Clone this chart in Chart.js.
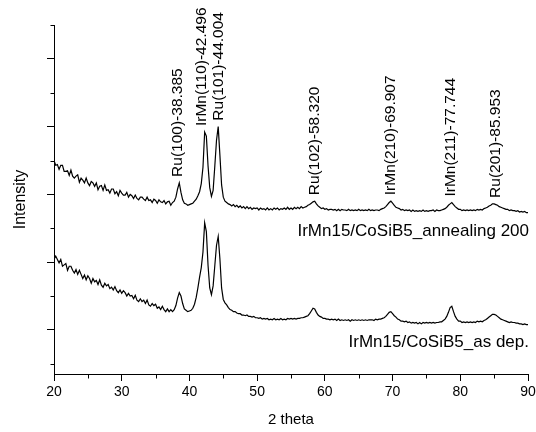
<!DOCTYPE html>
<html><head><meta charset="utf-8">
<script src="https://cdn.jsdelivr.net/npm/chart.js@4.4.1/dist/chart.umd.min.js"></script>
<style>html,body{margin:0;padding:0;background:#fff}</style>
</head><body>
<canvas id="c" width="536" height="432"></canvas>
<script>
// XRD scans: 2theta from angleStart in steps of angleStep (degrees)
const angleStart = 20;
const angleStep = 0.25;

const annealed = [
  2.50,2.43,2.44,2.37, 2.43,2.43,2.34,2.34, 2.35,2.28,2.36,2.27, 2.24,2.27,2.29,2.18,
  2.24,2.21,2.17,2.24, 2.17,2.13,2.19,2.17, 2.12,2.17,2.07,2.12, 2.13,2.06,2.14,2.06,
  2.07,2.02,2.08,2.08, 2.01,2.04,1.98,2.06, 2.02,1.99,1.99,2.03, 1.96,2.00,1.98,1.94,
  1.99,1.94,1.92,1.96, 1.96,1.93,1.91,1.96, 1.91,1.92,1.88,1.93, 1.91,1.87,1.92,1.89,
  1.88,1.91,1.86,1.89, 1.90,1.84,1.88,1.90, 1.96,2.08,2.17,2.03, 1.92,1.87,1.86,1.84,
  1.85,1.86,1.87,1.90, 1.93,1.98,2.04,2.16, 2.40,2.92,2.86,2.42, 2.10,1.97,2.06,2.42,
  2.80,3.00,2.58,2.14, 1.96,1.90,1.88,1.86, 1.85,1.83,1.85,1.82, 1.84,1.81,1.83,1.80,
  1.82,1.79,1.82,1.79, 1.81,1.78,1.80,1.79, 1.80,1.77,1.80,1.78, 1.79,1.77,1.80,1.77,
  1.79,1.77,1.80,1.78, 1.80,1.77,1.79,1.78, 1.80,1.78,1.81,1.78, 1.80,1.78,1.81,1.79,
  1.81,1.79,1.82,1.80, 1.81,1.82,1.84,1.85, 1.87,1.89,1.90,1.86, 1.83,1.81,1.79,1.80,
  1.78,1.79,1.77,1.78, 1.78,1.77,1.78,1.76, 1.78,1.76,1.78,1.77, 1.77,1.76,1.78,1.76,
  1.77,1.76,1.77,1.76, 1.78,1.76,1.77,1.76, 1.77,1.76,1.78,1.76, 1.77,1.76,1.77,1.77,
  1.76,1.78,1.79,1.80, 1.82,1.85,1.88,1.90, 1.87,1.84,1.81,1.80, 1.79,1.77,1.78,1.76,
  1.77,1.76,1.77,1.75, 1.77,1.75,1.76,1.75, 1.76,1.75,1.77,1.75, 1.76,1.75,1.76,1.76,
  1.77,1.75,1.77,1.76, 1.76,1.77,1.78,1.79, 1.81,1.84,1.86,1.88, 1.85,1.82,1.80,1.78,
  1.78,1.76,1.77,1.76, 1.77,1.76,1.77,1.76, 1.77,1.76,1.78,1.77, 1.78,1.77,1.79,1.80,
  1.81,1.83,1.84,1.86, 1.86,1.85,1.84,1.82, 1.81,1.80,1.79,1.78, 1.78,1.76,1.77,1.76,
  1.76,1.75,1.76,1.74, 1.75,1.74,1.75,1.73, 1.73
];

const asDeposited = [
  1.04,1.09,1.04,0.99, 1.04,0.94,0.96,0.98, 0.88,0.94,0.94,0.88, 0.84,0.89,0.82,0.88,
  0.82,0.76,0.81,0.74, 0.80,0.76,0.69,0.76, 0.71,0.73,0.67,0.74, 0.66,0.63,0.69,0.65,
  0.67,0.61,0.63,0.59, 0.64,0.58,0.55,0.59, 0.54,0.58,0.55,0.50, 0.54,0.50,0.51,0.46,
  0.51,0.44,0.42,0.46, 0.42,0.44,0.39,0.44, 0.37,0.35,0.39,0.36, 0.38,0.32,0.34,0.30,
  0.35,0.30,0.27,0.31, 0.27,0.30,0.27,0.30, 0.36,0.47,0.55,0.50, 0.39,0.31,0.29,0.27,
  0.28,0.29,0.32,0.38, 0.48,0.62,0.78,0.92, 1.15,1.58,1.45,0.95, 0.62,0.52,0.65,0.95,
  1.25,1.38,1.05,0.62, 0.45,0.40,0.37,0.33, 0.30,0.29,0.27,0.27, 0.25,0.24,0.24,0.22,
  0.22,0.21,0.22,0.20, 0.20,0.19,0.20,0.18, 0.18,0.17,0.18,0.16, 0.17,0.16,0.17,0.15,
  0.16,0.15,0.17,0.15, 0.16,0.15,0.17,0.15, 0.16,0.15,0.17,0.16, 0.17,0.16,0.17,0.16,
  0.17,0.17,0.18,0.18, 0.19,0.20,0.21,0.24, 0.28,0.32,0.31,0.26, 0.22,0.20,0.19,0.17,
  0.17,0.16,0.16,0.15, 0.16,0.15,0.16,0.14, 0.16,0.14,0.15,0.14, 0.15,0.14,0.15,0.13,
  0.15,0.14,0.15,0.14, 0.15,0.14,0.15,0.14, 0.15,0.14,0.15,0.15, 0.15,0.14,0.16,0.15,
  0.16,0.16,0.17,0.18, 0.20,0.23,0.26,0.27, 0.24,0.21,0.19,0.16, 0.15,0.13,0.13,0.12,
  0.13,0.11,0.12,0.10, 0.11,0.10,0.11,0.09, 0.11,0.09,0.11,0.10, 0.11,0.10,0.11,0.10,
  0.11,0.10,0.11,0.11, 0.12,0.12,0.14,0.16, 0.20,0.26,0.33,0.35, 0.27,0.20,0.16,0.13,
  0.13,0.11,0.12,0.11, 0.12,0.11,0.12,0.11, 0.12,0.11,0.13,0.12, 0.13,0.12,0.14,0.15,
  0.17,0.19,0.21,0.23, 0.23,0.22,0.20,0.18, 0.16,0.15,0.14,0.13, 0.12,0.11,0.12,0.11,
  0.11,0.10,0.10,0.09, 0.09,0.08,0.09,0.08, 0.08
];

const xTickValues = [20,25,30,35,40,45,50,55,60,65,70,75,80,85,90];
const xTickLabels = ['20','','30','','40','','50','','60','','70','','80','','90'];
const yTickValues = [-0.5,0,0.5,1,1.5,2,2.5,3,3.5,4,4.5];

const peakLabels = ['Ru(100)-38.385','IrMn(110)-42.496','Ru(101)-44.004','Ru(102)-58.320','IrMn(210)-69.907','IrMn(211)-77.744','Ru(201)-85.953'];
const peakLabelAngles = [38.34, 41.8, 44.26, 58.52, 69.76, 78.64, 85.3];

const seriesNames = ['IrMn15/CoSiB5_annealing 200', 'IrMn15/CoSiB5_as dep.'];
const seriesNameLevels = [1.39, -0.25];

const FONT = "'Liberation Sans', Arial, Helvetica, sans-serif";
const toPoints = arr => arr.map((v, i) => ({ x: angleStart + i * angleStep, y: v }));

const overlay = {
  id: 'overlay',
  afterDraw(chart) {
    const ctx = chart.ctx, xs = chart.scales.x, ys = chart.scales.y;
    ctx.save();
    ctx.strokeStyle = '#000';
    ctx.lineWidth = 1;
    // minor tick marks (shorter)
    const xb = Math.round(xs.top) + 0.5;
    xs.ticks.forEach(t => {
      if (t.major) return;
      const p = Math.round(xs.getPixelForValue(t.value)) + 0.5;
      ctx.beginPath(); ctx.moveTo(p, xb); ctx.lineTo(p, xb + 4); ctx.stroke();
    });
    const yb = Math.round(ys.right) + 0.5;
    ys.ticks.forEach(t => {
      if (t.major) return;
      const p = Math.round(ys.getPixelForValue(t.value)) + 0.5;
      ctx.beginPath(); ctx.moveTo(yb, p); ctx.lineTo(yb - 4, p); ctx.stroke();
    });
    // peak annotations
    ctx.fillStyle = '#000';
    ctx.font = '15.5px ' + FONT;
    ctx.textAlign = 'left';
    ctx.textBaseline = 'middle';
    peakLabels.forEach((txt, k) => {
      const a = peakLabelAngles[k];
      let top = -Infinity;
      annealed.forEach((v, i) => {
        const ang = angleStart + i * angleStep;
        if (Math.abs(ang - a) <= 0.6 && v > top) top = v;
      });
      const px = xs.getPixelForValue(a);
      const py = ys.getPixelForValue(top) - 6;
      ctx.save();
      ctx.translate(px, py);
      ctx.rotate(-Math.PI / 2);
      ctx.fillText(txt, 0, 0);
      ctx.restore();
    });
    // series names
    ctx.font = '17px ' + FONT;
    ctx.textAlign = 'right';
    ctx.textBaseline = 'alphabetic';
    seriesNames.forEach((name, k) => {
      ctx.fillText(name, xs.getPixelForValue(xs.max) + 1, ys.getPixelForValue(seriesNameLevels[k]));
    });
    ctx.restore();
  }
};

new Chart(document.getElementById('c'), {
  type: 'line',
  data: {
    datasets: [
      { label: seriesNames[0], data: toPoints(annealed), borderColor: '#000', borderWidth: 1.2, pointRadius: 0, tension: 0, fill: false },
      { label: seriesNames[1], data: toPoints(asDeposited), borderColor: '#000', borderWidth: 1.2, pointRadius: 0, tension: 0, fill: false }
    ]
  },
  options: {
    responsive: false,
    animation: false,
    events: [],
    layout: { padding: { top: 25, right: 8, left: 0, bottom: 0 } },
    plugins: { legend: { display: false }, tooltip: { enabled: false } },
    scales: {
      x: {
        type: 'linear', min: 20, max: 90,
        afterBuildTicks: s => { s.ticks = xTickValues.map((v, i) => ({ value: v, major: xTickLabels[i] !== '' })); },
        afterFit: s => { s.height = 58; s.paddingLeft = 0; s.paddingRight = 0; },
        grid: { drawOnChartArea: false, drawTicks: true, tickLength: 7, tickWidth: 1,
                tickColor: c => (c.tick && c.tick.major) ? '#000' : 'rgba(0,0,0,0)' },
        border: { display: true, color: '#000', width: 1 },
        ticks: { autoSkip: false, maxRotation: 0, color: '#000', padding: 3,
                 font: { family: FONT, size: 14 },
                 callback: (v, i) => xTickLabels[i] },
        title: { display: true, text: '2 theta', color: '#000', font: { family: FONT, size: 15 }, padding: { top: 0, bottom: 3 } }
      },
      y: {
        type: 'linear', min: -0.65, max: 4.5,
        afterBuildTicks: s => { s.ticks = yTickValues.map(v => ({ value: v, major: Number.isInteger(v) })); },
        afterFit: s => { s.width = 54; s.paddingTop = 0; s.paddingBottom = 0; },
        grid: { drawOnChartArea: false, drawTicks: true, tickLength: 7, tickWidth: 1,
                tickColor: c => (c.tick && c.tick.major) ? '#000' : 'rgba(0,0,0,0)' },
        border: { display: true, color: '#000', width: 1 },
        ticks: { autoSkip: false, callback: () => '' },
        title: { display: true, text: 'Intensity', color: '#000', font: { family: FONT, size: 16 }, padding: { top: 11, bottom: 0 } }
      }
    }
  },
  plugins: [overlay]
});
</script>
</body></html>
